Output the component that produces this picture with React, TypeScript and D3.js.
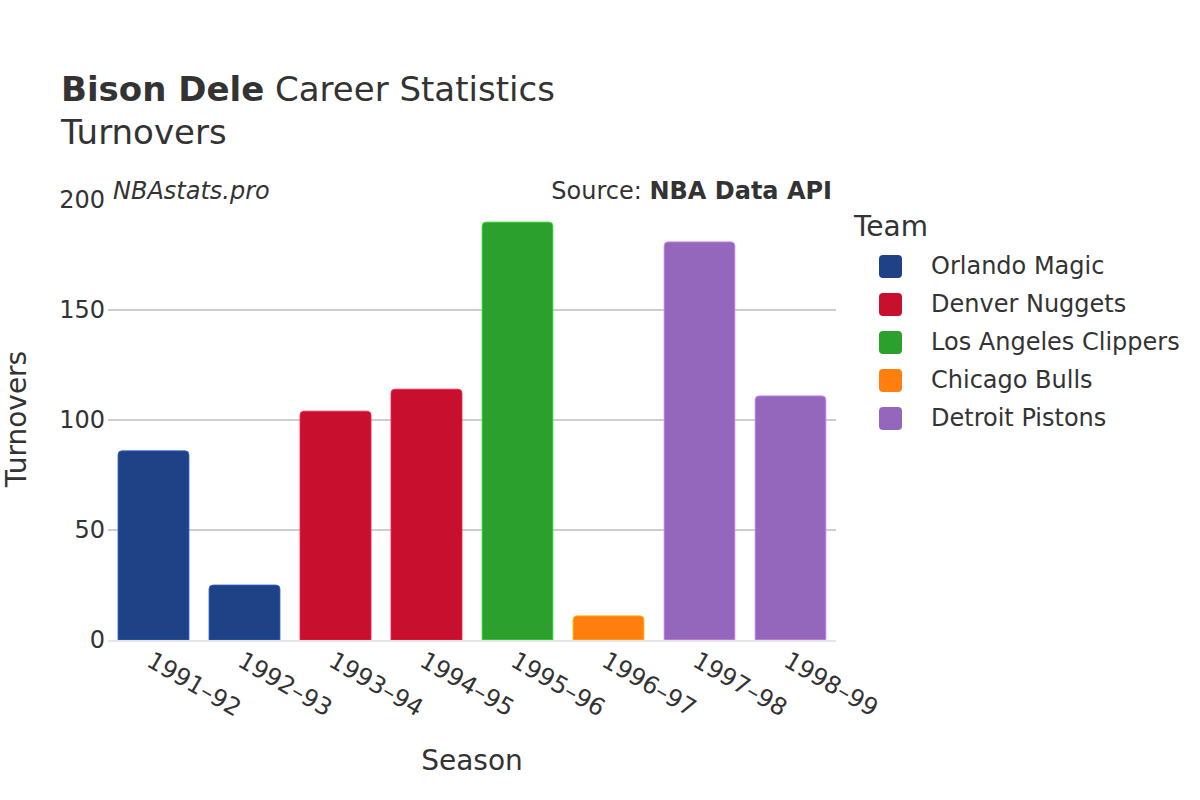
import React from "react";
import * as d3 from "d3";

const seasons = ["1991–92", "1992–93", "1993–94", "1994–95", "1995–96", "1996–97", "1997–98", "1998–99"];
const turnovers = [86, 25, 104, 114, 190, 11, 181, 111];
const barTeams = ["Orlando Magic", "Orlando Magic", "Denver Nuggets", "Denver Nuggets", "Los Angeles Clippers", "Chicago Bulls", "Detroit Pistons", "Detroit Pistons"];
const teams = ["Orlando Magic", "Denver Nuggets", "Los Angeles Clippers", "Chicago Bulls", "Detroit Pistons"];
const teamColors = ["#1f4287", "#c8102e", "#2ca02c", "#ff7f0e", "#9467bd"];
const yTicks = [0, 50, 100, 150, 200];

const FONT = "'DejaVu Sans', sans-serif";

export default function App() {
  const W = 1200, H = 800;
  const left = 108, right = 836, top = 200, bottom = 640;
  const x = d3.scaleBand().domain(seasons).range([left, right]).paddingInner(0.22).paddingOuter(0.11);
  const y = d3.scaleLinear().domain([0, 200]).range([bottom, top]);
  const color = d3.scaleOrdinal<string, string>().domain(teams).range(teamColors);
  const r = 4;
  const barPath = (x0: number, w: number, yTop: number, yBot: number) => {
    const p = d3.path();
    const rr = Math.min(r, (yBot - yTop) / 2, w / 2);
    p.moveTo(x0, yBot);
    p.lineTo(x0, yTop + rr);
    p.quadraticCurveTo(x0, yTop, x0 + rr, yTop);
    p.lineTo(x0 + w - rr, yTop);
    p.quadraticCurveTo(x0 + w, yTop, x0 + w, yTop + rr);
    p.lineTo(x0 + w, yBot);
    p.closePath();
    return p.toString();
  };
  return (
    <svg width={W} height={H} style={{ display: "block", position: "absolute", left: 0, top: 0 }} fontFamily={FONT}>
      <rect width={W} height={H} fill="#fff" />
      <text x={61} y={101} fontSize={34} fill="#333">
        <tspan fontWeight="bold">Bison Dele</tspan>
        <tspan> Career Statistics</tspan>
      </text>
      <text x={61} y={144} fontSize={34} fill="#333">Turnovers</text>
      {yTicks.filter(t => t > 0 && t < 200).map(t => (
        <line key={t} x1={left} x2={right} y1={y(t)} y2={y(t)} stroke="#bdbdbd" strokeWidth={1.3} />
      ))}
      {yTicks.map(t => (
        <text key={t} x={left - 3} y={y(t)} dy="0.35em" textAnchor="end" fontSize={24} fill="#333">{t}</text>
      ))}
      {seasons.map((s, i) => {
        const x0 = x(s)!;
        const c = color(barTeams[i]);
        return (
          <path key={s} d={barPath(x0, x.bandwidth(), y(turnovers[i]), y(0))} fill={c}
            stroke={d3.color(c)!.brighter(1.2).formatHex()} strokeWidth={0.8} />
        );
      })}
      <line x1={left} x2={right} y1={y(0) + 1} y2={y(0) + 1} stroke="#e6e6e6" strokeWidth={2} />
      {seasons.map(s => {
        const cx = x(s)! + x.bandwidth() / 2;
        return (
          <text key={s} transform={`translate(${cx - 4},${658}) rotate(30)`} fontSize={24} fill="#333" dy="0.35em">{s}</text>
        );
      })}
      <text x={472} y={770} textAnchor="middle" fontSize={28} fill="#333">Season</text>
      <text transform={`translate(26,${419}) rotate(-90)`} textAnchor="middle" fontSize={28} fill="#333">Turnovers</text>
      <text x={113} y={199} fontSize={24} fontStyle="italic" fill="#333">NBAstats.pro</text>
      <text x={832} y={199} textAnchor="end" fontSize={24} fill="#333">
        <tspan>Source: </tspan><tspan fontWeight="bold">NBA Data API</tspan>
      </text>
      <text x={854} y={236} fontSize={28} fill="#333">Team</text>
      {teams.map((t, i) => (
        <g key={t} transform={`translate(0,${266 + i * 38})`}>
          <rect x={879} y={-11} width={23} height={23} rx={4} fill={color(t)} />
          <text x={931} y={0} dy="0.35em" fontSize={24} fill="#333">{t}</text>
        </g>
      ))}
    </svg>
  );
}
